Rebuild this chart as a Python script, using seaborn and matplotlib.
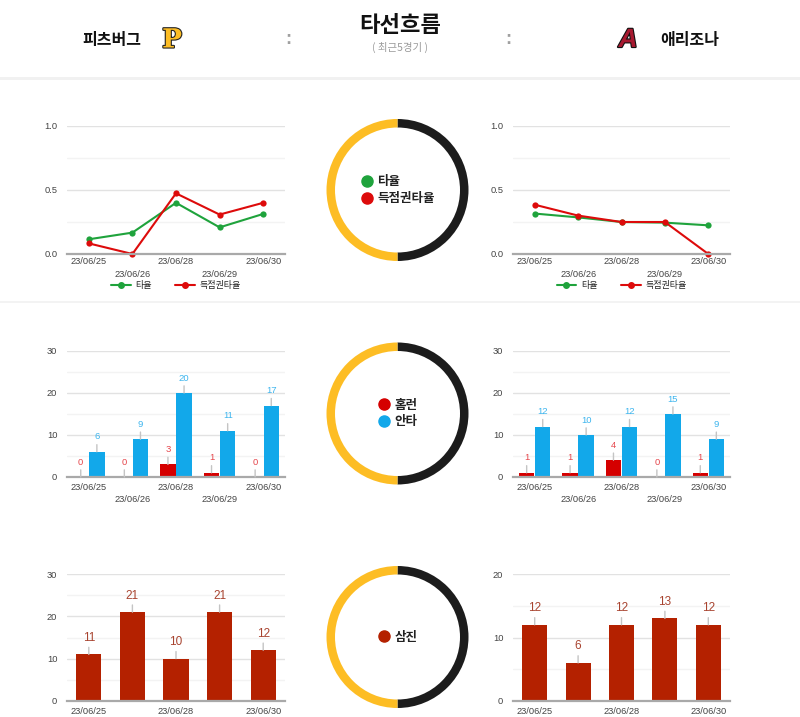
import matplotlib
matplotlib.use("Agg")
import matplotlib.pyplot as plt
import matplotlib.patheffects as pe
from matplotlib.lines import Line2D
from matplotlib.patches import Rectangle
import numpy as np
import pandas as pd
import seaborn as sns

# data
dates = ["23/06/25", "23/06/26", "23/06/28", "23/06/29", "23/06/30"]
home_team = "피츠버그"
away_team = "애리조나"

pit_avg = [0.115, 0.167, 0.400, 0.208, 0.313]
pit_risp = [0.083, 0.000, 0.474, 0.308, 0.400]
ari_avg = [0.316, 0.286, 0.250, 0.245, 0.224]
ari_risp = [0.385, 0.300, 0.250, 0.250, 0.000]

pit_hr = [0, 0, 3, 1, 0]
pit_hits = [6, 9, 20, 11, 17]
ari_hr = [1, 1, 4, 0, 1]
ari_hits = [12, 10, 12, 15, 9]

pit_so = [11, 21, 10, 21, 12]
ari_so = [12, 6, 12, 13, 12]

ring_share = [1, 1]  # right half / left half of the donut

GREEN = "#1fa33c"
RED = "#dd0b0b"
BLUE = "#12a8ea"
HR_RED = "#d50000"
SO_RED = "#b42100"
GOLD = "#fdbd24"
DARK = "#1c1c1c"

W, H = 800, 717

sns.set_theme(style="white")
plt.rcParams["font.family"] = ["Liberation Sans", "Noto Sans CJK KR", "DejaVu Sans"]
KR = ["Noto Sans CJK KR", "DejaVu Sans"]

fig = plt.figure(figsize=(W / 100, H / 100), dpi=100, facecolor="white")


def px_axes(x0, y0, x1, y1):
    return fig.add_axes([x0 / W, 1 - y1 / H, (x1 - x0) / W, (y1 - y0) / H])


def style_axes(ax, ymax, major, fmt, xpad, labels):
    ax.set_xlim(-0.5, 4.5)
    ax.set_ylim(0, ymax)
    ax.set_yticks(np.arange(0, ymax + major / 2, major))
    ax.set_yticks(np.arange(major / 2, ymax, major), minor=True)
    ax.set_yticklabels([fmt.format(v) for v in np.arange(0, ymax + major / 2, major)])
    ax.grid(axis="y", which="major", color="#e2e2e2", lw=1)
    ax.grid(axis="y", which="minor", color="#f3f3f3", lw=1)
    ax.set_axisbelow(True)
    for s in ["top", "right", "left"]:
        ax.spines[s].set_visible(False)
    ax.spines["bottom"].set_color("#a9a9a9")
    ax.spines["bottom"].set_linewidth(1.6)
    ax.tick_params(axis="both", which="both", length=0, labelsize=6.7, colors="#444444")
    ax.tick_params(axis="y", pad=7)
    ax.tick_params(axis="x", pad=xpad)
    ax.set_xticks(range(len(dates)))
    ax.set_xticklabels(labels)
    for lbl in ax.get_xticklabels()[1::2]:
        lbl.set_y(-0.095)
    ax.set_xlabel("")
    ax.set_ylabel("")


def annotate_bars(ax, colors, size):
    for cont, c in zip(ax.containers, colors):
        for bar in cont:
            x = bar.get_x() + bar.get_width() / 2
            v = bar.get_height()
            ax.annotate(f"{v:.0f}", xy=(x, v), xytext=(0, 7.5), textcoords="offset points",
                        ha="center", va="bottom", fontsize=size, color=c,
                        arrowprops=dict(arrowstyle="-", color="#c4c4c4", lw=1,
                                        shrinkA=0, shrinkB=0),
                        annotation_clip=False)


def line_chart(ax, avg, risp):
    df = pd.DataFrame({
        "date": dates * 2,
        "value": avg + risp,
        "metric": ["타율"] * 5 + ["득점권타율"] * 5,
    })
    sns.lineplot(data=df, x="date", y="value", hue="metric", sort=False,
                 palette={"타율": GREEN, "득점권타율": RED}, marker="o",
                 markersize=4.5, markeredgewidth=0, linewidth=1.5, legend=False, ax=ax)
    for ln in ax.lines:
        ln.set_clip_on(False)
    style_axes(ax, 1.0, 0.5, "{:.1f}", 2.5, dates)
    handles = [Line2D([], [], color=GREEN, marker="o", markersize=4, lw=1.5),
               Line2D([], [], color=RED, marker="o", markersize=4, lw=1.5)]
    ax.legend(handles, ["타율", "득점권타율"], loc="center", bbox_to_anchor=(0.5, -0.245),
              ncol=2, frameon=False, prop={"family": KR, "size": 6.5},
              handlelength=2.2, handletextpad=0.5, columnspacing=2.6, labelcolor="#222222")


def hit_chart(ax, hr, hits):
    df = pd.DataFrame({
        "date": dates * 2,
        "count": hr + hits,
        "kind": ["홈런"] * 5 + ["안타"] * 5,
    })
    sns.barplot(data=df, x="date", y="count", hue="kind", order=dates,
                palette={"홈런": HR_RED, "안타": BLUE}, width=0.74, gap=0.04,
                saturation=1, errorbar=None, legend=False, linewidth=0, ax=ax)
    style_axes(ax, 30, 10, "{:.0f}", 4.5, dates)
    annotate_bars(ax, ["#e5464c", "#3db5ee"], 6.8)


def so_chart(ax, so, ymax):
    sns.barplot(x=dates, y=so, color=SO_RED, width=0.58, saturation=1, errorbar=None,
                linewidth=0, ax=ax)
    labels = [d if i % 2 == 0 else "" for i, d in enumerate(dates)]
    style_axes(ax, ymax, 10, "{:.0f}", 4.5, labels)
    annotate_bars(ax, ["#a8432f"], 8.5)


def donut(cy, labels, colors):
    ax = px_axes(397.5 - 75, cy - 75, 397.5 + 75, cy + 75)
    ax.pie(ring_share, colors=[DARK, GOLD], startangle=90, counterclock=False,
           radius=71 / 75, wedgeprops=dict(width=8.5 / 75, linewidth=0))
    ax.set_xlim(-1, 1)
    ax.set_ylim(-1, 1)
    ax.axis("off")
    handles = [Line2D([], [], ls="", marker="o", color=c, markersize=8) for c in colors]
    ax.legend(handles, labels, loc="center", frameon=False,
              prop={"family": KR, "size": 9, "weight": "bold"},
              handlelength=1.0, handletextpad=0.35, labelspacing=0.3, labelcolor="#222222")


# header
fig.text(112 / W, 1 - 40 / H, home_team, ha="center", va="center", fontsize=11.5,
         fontweight="bold", family=KR, color="#111111")
fig.text(172 / W, 1 - 40 / H, "P", ha="center", va="center", fontsize=19, fontweight="bold",
         family="DejaVu Serif", color=GOLD,
         path_effects=[pe.withStroke(linewidth=1.6, foreground="#222222")])
fig.text(400 / W, 1 - 25 / H, "타선흐름", ha="center", va="center", fontsize=16,
         fontweight="bold", family=KR, color="#111111")
fig.text(400 / W, 1 - 47 / H, "( 최근5경기 )", ha="center", va="center", fontsize=7.5,
         family=KR, color="#9a9a9a")
fig.text(288 / W, 1 - 39 / H, ":", ha="center", va="center", fontsize=13, fontweight="bold",
         color="#a0a0a0")
fig.text(508 / W, 1 - 39 / H, ":", ha="center", va="center", fontsize=13, fontweight="bold",
         color="#a0a0a0")
fig.text(628 / W, 1 - 40 / H, "A", ha="center", va="center", fontsize=19, fontweight="bold",
         style="italic", color="#a71930",
         path_effects=[pe.withStroke(linewidth=1.6, foreground="#111111")])
fig.text(690 / W, 1 - 40 / H, away_team, ha="center", va="center", fontsize=11.5,
         fontweight="bold", family=KR, color="#111111")

# separators
fig.patches.append(Rectangle((0, 1 - 80 / H), 1, 3 / H, transform=fig.transFigure,
                             color="#f1f1f1", lw=0, zorder=0))
fig.patches.append(Rectangle((0, 1 - 303 / H), 1, 2 / H, transform=fig.transFigure,
                             color="#f3f3f3", lw=0, zorder=0))

# row 1: batting average / RISP
line_chart(px_axes(67, 126, 285, 254), pit_avg, pit_risp)
line_chart(px_axes(513, 126, 730, 254), ari_avg, ari_risp)
donut(190, ["타율", "득점권타율"], [GREEN, RED])

# row 2: home runs / hits
hit_chart(px_axes(67, 351, 285, 477), pit_hr, pit_hits)
hit_chart(px_axes(513, 351, 730, 477), ari_hr, ari_hits)
donut(413.5, ["홈런", "안타"], [HR_RED, BLUE])

# row 3: strikeouts
so_chart(px_axes(67, 574, 285, 701), pit_so, 30)
so_chart(px_axes(513, 574, 730, 701), ari_so, 20)
donut(637, ["삼진"], [SO_RED])

fig.savefig("out.png", dpi=100, facecolor="white")
